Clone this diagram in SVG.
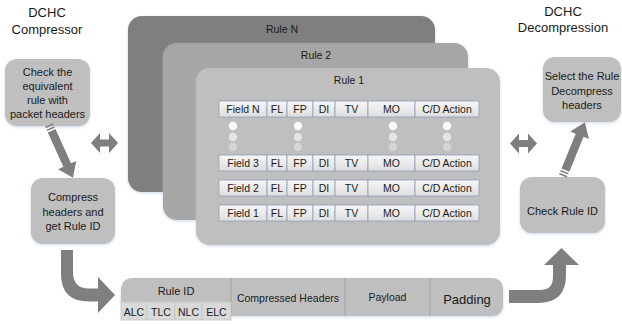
<svg xmlns="http://www.w3.org/2000/svg" width="622" height="324" viewBox="0 0 622 324">
<defs>
<filter id="glow" x="-10%" y="-10%" width="120%" height="130%">
<feDropShadow dx="0" dy="1" stdDeviation="1.5" flood-color="#a9c0dc" flood-opacity="0.6"/>
</filter>
<linearGradient id="cellg" x1="0" y1="0" x2="0" y2="1">
<stop offset="0" stop-color="#f7f7f7"/>
<stop offset="1" stop-color="#dedede"/>
</linearGradient>
<g id="sarrow">
<rect x="0" y="-4.2" width="1.6" height="8.4"/>
<rect x="3.2" y="-4.2" width="1.6" height="8.4"/>
<polygon points="6.4,-4.2 44,-4.2 44,-10 58,0 44,10 44,4.2 6.4,4.2"/>
</g>
</defs>
<style>
text{font-family:"Liberation Sans",Arial,sans-serif;fill:#1a1a1a;text-anchor:middle;dominant-baseline:central}
.lbl{font-size:13px}
.nt{font-size:11px}
.ct{font-size:10.5px}
.node{fill:#bfbfbf;filter:url(#glow)}
.cell{fill:url(#cellg);stroke:#8d9db5;stroke-width:0.8}
.arr{fill:#7f7f7f}
.sub{fill:#d9d9d9;stroke:#c6c6c6;stroke-width:0.8}
.sep{stroke:#a3a3a3;stroke-width:1}
</style>

<g id="labels">
<text class="lbl" x="47" y="12">DCHC</text>
<text class="lbl" x="47" y="29">Compressor</text>
<text class="lbl" x="563" y="11">DCHC</text>
<text class="lbl" x="563" y="27">Decompression</text>
</g>

<g id="rule-n">
<rect x="128" y="16" width="307" height="176" rx="14" fill="#7f7f7f" filter="url(#glow)"/>
<text class="ct" x="282" y="28.5">Rule N</text>
</g>
<g id="rule-2">
<rect x="163" y="43" width="305" height="177" rx="14" fill="#a6a6a6" filter="url(#glow)"/>
<text class="ct" x="316" y="55">Rule 2</text>
</g>
<g id="rule-1">
<rect x="196" y="68" width="304" height="177" rx="14" fill="#bfbfbf" filter="url(#glow)"/>
<text class="ct" x="349" y="79.5">Rule 1</text>
<g id="row-n">
<rect class="cell" x="219" y="101" width="48" height="16"/><rect class="cell" x="267" y="101" width="20" height="16"/><rect class="cell" x="287" y="101" width="26" height="16"/><rect class="cell" x="313" y="101" width="22" height="16"/><rect class="cell" x="335" y="101" width="33" height="16"/><rect class="cell" x="368" y="101" width="47" height="16"/><rect class="cell" x="415" y="101" width="64" height="16"/>
<text class="ct" x="243" y="109">Field N</text><text class="ct" x="277" y="109">FL</text><text class="ct" x="300" y="109">FP</text><text class="ct" x="324" y="109">DI</text><text class="ct" x="351.5" y="109">TV</text><text class="ct" x="391.5" y="109">MO</text><text class="ct" x="447" y="109">C/D Action</text>
</g>
<g id="dots">
<circle cx="233" cy="126" r="4.2" fill="#fafafa"/><circle cx="233" cy="137" r="4.2" fill="#e4e4e4"/><circle cx="233" cy="147" r="4.2" fill="#d6d6d6"/>
<circle cx="298" cy="126" r="4.2" fill="#fafafa"/><circle cx="298" cy="137" r="4.2" fill="#e4e4e4"/><circle cx="298" cy="147" r="4.2" fill="#d6d6d6"/>
<circle cx="393" cy="126" r="4.2" fill="#fafafa"/><circle cx="393" cy="137" r="4.2" fill="#e4e4e4"/><circle cx="393" cy="147" r="4.2" fill="#d6d6d6"/>
<circle cx="447" cy="126" r="4.2" fill="#fafafa"/><circle cx="447" cy="137" r="4.2" fill="#e4e4e4"/><circle cx="447" cy="147" r="4.2" fill="#d6d6d6"/>
</g>
<g id="row-3">
<rect class="cell" x="219" y="155" width="48" height="16"/><rect class="cell" x="267" y="155" width="20" height="16"/><rect class="cell" x="287" y="155" width="26" height="16"/><rect class="cell" x="313" y="155" width="22" height="16"/><rect class="cell" x="335" y="155" width="33" height="16"/><rect class="cell" x="368" y="155" width="47" height="16"/><rect class="cell" x="415" y="155" width="64" height="16"/>
<text class="ct" x="243" y="163">Field 3</text><text class="ct" x="277" y="163">FL</text><text class="ct" x="300" y="163">FP</text><text class="ct" x="324" y="163">DI</text><text class="ct" x="351.5" y="163">TV</text><text class="ct" x="391.5" y="163">MO</text><text class="ct" x="447" y="163">C/D Action</text>
</g>
<g id="row-2">
<rect class="cell" x="219" y="180" width="48" height="16"/><rect class="cell" x="267" y="180" width="20" height="16"/><rect class="cell" x="287" y="180" width="26" height="16"/><rect class="cell" x="313" y="180" width="22" height="16"/><rect class="cell" x="335" y="180" width="33" height="16"/><rect class="cell" x="368" y="180" width="47" height="16"/><rect class="cell" x="415" y="180" width="64" height="16"/>
<text class="ct" x="243" y="188">Field 2</text><text class="ct" x="277" y="188">FL</text><text class="ct" x="300" y="188">FP</text><text class="ct" x="324" y="188">DI</text><text class="ct" x="351.5" y="188">TV</text><text class="ct" x="391.5" y="188">MO</text><text class="ct" x="447" y="188">C/D Action</text>
</g>
<g id="row-1">
<rect class="cell" x="219" y="205" width="48" height="16"/><rect class="cell" x="267" y="205" width="20" height="16"/><rect class="cell" x="287" y="205" width="26" height="16"/><rect class="cell" x="313" y="205" width="22" height="16"/><rect class="cell" x="335" y="205" width="33" height="16"/><rect class="cell" x="368" y="205" width="47" height="16"/><rect class="cell" x="415" y="205" width="64" height="16"/>
<text class="ct" x="243" y="213">Field 1</text><text class="ct" x="277" y="213">FL</text><text class="ct" x="300" y="213">FP</text><text class="ct" x="324" y="213">DI</text><text class="ct" x="351.5" y="213">TV</text><text class="ct" x="391.5" y="213">MO</text><text class="ct" x="447" y="213">C/D Action</text>
</g>
</g>

<g id="node-check">
<rect class="node" x="5" y="59" width="85" height="67" rx="12"/>
<text class="nt" x="47.5" y="71.5">Check the</text>
<text class="nt" x="47.5" y="86">equivalent</text>
<text class="nt" x="47.5" y="100">rule with</text>
<text class="nt" x="47.5" y="114">packet headers</text>
</g>
<g id="node-compress">
<rect class="node" x="31" y="178" width="84" height="66" rx="12"/>
<text class="nt" x="73" y="197">Compress</text>
<text class="nt" x="73" y="211.5">headers and</text>
<text class="nt" x="73" y="226">get Rule ID</text>
</g>
<g id="node-select">
<rect class="node" x="543" y="57" width="78" height="65" rx="12"/>
<text class="nt" x="582" y="76">Select the Rule</text>
<text class="nt" x="582" y="91">Decompress</text>
<text class="nt" x="582" y="104.5">headers</text>
</g>
<g id="node-checkid">
<rect class="node" x="520" y="177" width="85" height="56" rx="12"/>
<text class="nt" x="562.5" y="211">Check Rule ID</text>
</g>

<g id="packet">
<path d="M121,302 L121,291 Q121,278 134,278 L491,278 Q503,278 503,290 L503,304 Q503,316 491,316 L231,316 L231,302 Z" fill="#bfbfbf" filter="url(#glow)"/>
<line class="sep" x1="231" y1="278" x2="231" y2="316"/>
<line class="sep" x1="345" y1="278" x2="345" y2="316"/>
<line class="sep" x1="430" y1="278" x2="430" y2="316"/>
<rect class="sub" x="121" y="302" width="26" height="18"/>
<rect class="sub" x="147" y="302" width="28" height="18"/>
<rect class="sub" x="175" y="302" width="27" height="18"/>
<rect class="sub" x="202" y="302" width="29" height="18"/>
<text class="nt" x="176" y="290.5">Rule ID</text>
<text class="ct" x="134" y="311.5">ALC</text>
<text class="ct" x="161" y="311.5">TLC</text>
<text class="ct" x="188.5" y="311.5">NLC</text>
<text class="ct" x="216.5" y="311.5">ELC</text>
<text class="ct" x="288" y="297.5">Compressed Headers</text>
<text class="ct" x="387.5" y="297">Payload</text>
<text class="lbl" x="467" y="299">Padding</text>
</g>

<g id="connectors" class="arr">
<use href="#sarrow" transform="translate(49,125) rotate(65.6)"/>
<use href="#sarrow" transform="translate(563,176) rotate(-67.8)"/>
<polygon points="91,143 100,133 100,139.5 109,139.5 109,133 118,143 109,153 109,146.5 100,146.5 100,153"/>
<polygon points="510,143.5 519,133.5 519,140 528,140 528,133.5 537,143.5 528,153.5 528,147 519,147 519,153.5"/>
<path d="M61,250 L73,250 L73,272 Q73,288.5 89,288.5 L98,288.5 L98,277 L115,295 L98,313 L98,301.5 L89,301.5 Q61,301.5 61,274 Z"/>
<path d="M509,290 L540,290 Q553,290 553,277 L553,265 L544,265 L561.5,248 L579,265 L566,265 L566,275 Q566,303 538,303 L509,303 Z"/>
</g>
</svg>
